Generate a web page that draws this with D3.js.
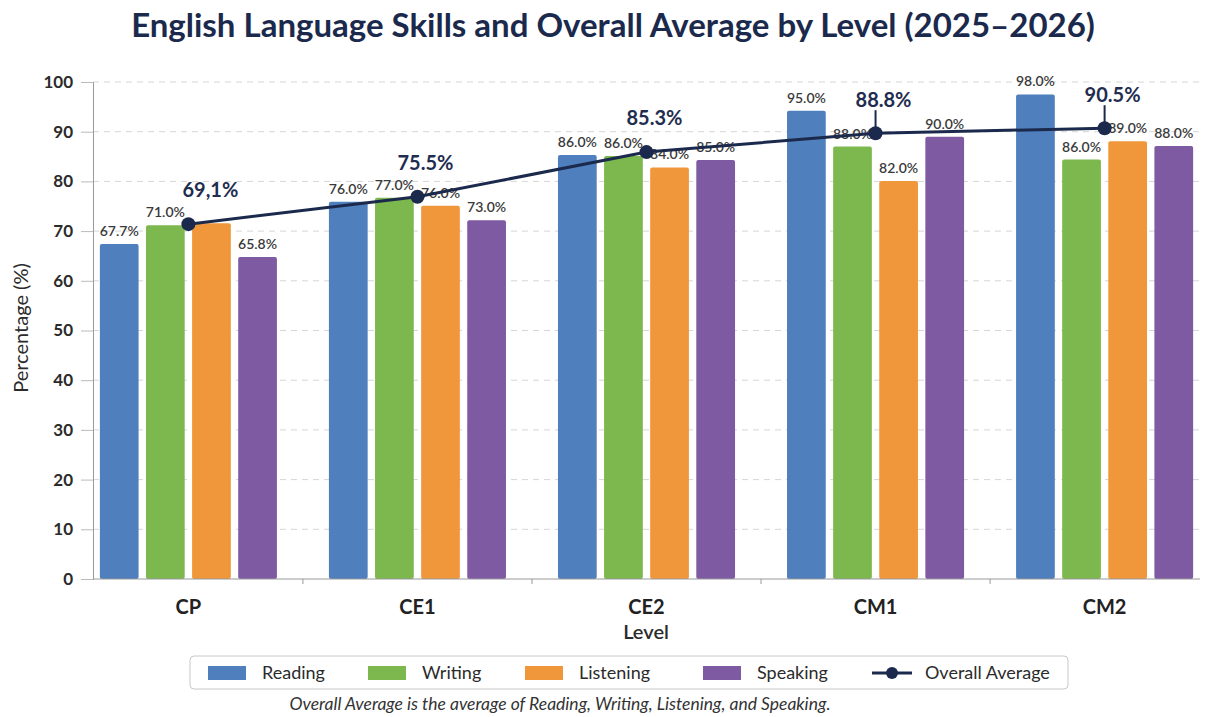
<!DOCTYPE html>
<html>
<head>
<meta charset="utf-8">
<script src="https://cdn.jsdelivr.net/npm/d3@7"></script>
<style>
body { margin: 0; background: #fff; }
svg { font-family: Lato, "Open Sans", sans-serif; }
</style>
</head>
<body>
<svg id="chart" width="1208" height="717"></svg>
<script>
// data
var levels = ["CP", "CE1", "CE2", "CM1", "CM2"];
var skills = ["Reading", "Writing", "Listening", "Speaking"];
var reading = [67.4, 75.9, 85.3, 94.2, 97.5];
var writing = [71.2, 76.7, 85.1, 87.0, 84.4];
var listening = [71.6, 75.1, 82.8, 80.1, 88.1];
var speaking = [64.8, 72.2, 84.3, 89.0, 87.1];
var readingLabels = ["67.7%", "76.0%", "86.0%", "95.0%", "98.0%"];
var writingLabels = ["71.0%", "77.0%", "86.0%", "88.0%", "86.0%"];
var listeningLabels = ["", "76.0%", "84.0%", "82.0%", "89.0%"];
var speakingLabels = ["65.8%", "73.0%", "85.0%", "90.0%", "88.0%"];
var overall = [71.4, 76.9, 85.9, 89.7, 90.7];
var overallLabels = ["69,1%", "75.5%", "85.3%", "88.8%", "90.5%"];
var yTicks = [0, 10, 20, 30, 40, 50, 60, 70, 80, 90, 100];

(function () {
var colors = ["#4f7fbd", "#7cb84e", "#f0973c", "#7e5aa3"];
var navy = "#1b2a4c";

var seriesVals = [reading, writing, listening, speaking];
var seriesLabels = [readingLabels, writingLabels, listeningLabels, speakingLabels];

var svg = d3.select("#chart");
var mLeft = 93, mRight = 1200, mTop = 82, mBottom = 579;

var x = d3.scaleBand().domain(levels).range([mLeft, mRight]).paddingInner(0.227).paddingOuter(0.03);
var xs = d3.scaleBand().domain(skills).range([0, x.bandwidth()]).paddingInner(0.16);
var y = d3.scaleLinear().domain([0, 100]).range([mBottom, mTop]);

// title
svg.append("text")
.attr("x", 613).attr("y", 37)
.attr("text-anchor", "middle")
.style("font-size", "33px").style("font-weight", "bold")
.style("fill", navy)
.text("English Language Skills and Overall Average by Level (2025\u20132026)");

// grid
svg.append("g").selectAll("line")
.data(yTicks.filter(function (d) { return d > 0 }))
.enter().append("line")
.attr("x1", mLeft).attr("x2", mRight)
.attr("y1", function (d) { return y(d) }).attr("y2", function (d) { return y(d) })
.style("stroke", "#d6d6d6").style("stroke-dasharray", "6,5");

// y axis
var yAxis = svg.append("g")
.attr("transform", "translate(" + mLeft + ",0)")
.call(d3.axisLeft(y).tickValues(yTicks).tickSize(12).tickPadding(8));
yAxis.select(".domain").style("stroke", "#999");
yAxis.selectAll(".tick line").style("stroke", "#bbb");
yAxis.selectAll("text").style("font-size", "17px").style("font-weight", "bold").style("fill", "#2b2b2b")
.style("font-family", "Lato");

svg.append("text")
.attr("transform", "translate(28,328) rotate(-90)")
.attr("text-anchor", "middle")
.style("font-size", "20px").style("fill", "#2b2b2b")
.text("Percentage (%)");

// bars
var groups = svg.append("g").selectAll("g")
.data(levels)
.enter().append("g")
.attr("transform", function (d) { return "translate(" + x(d) + ",0)" });

skills.forEach(function (s, k) {
  groups.append("rect")
  .attr("x", xs(s))
  .attr("width", xs.bandwidth())
  .attr("y", function (d, i) { return y(seriesVals[k][i]) })
  .attr("height", function (d, i) { return y(0) - y(seriesVals[k][i]) })
  .attr("rx", 2)
  .style("fill", colors[k]);

  groups.append("text")
  .attr("x", xs(s) + xs.bandwidth() / 2)
  .attr("y", function (d, i) { return y(seriesVals[k][i]) - 8 })
  .attr("text-anchor", "middle")
  .style("font-size", "14px").style("font-weight", "600").style("fill", "#3a3a3a")
  .text(function (d, i) { return seriesLabels[k][i] });
});

// x axis
svg.append("line")
.attr("x1", mLeft).attr("x2", mRight).attr("y1", mBottom).attr("y2", mBottom)
.style("stroke", "#999");
svg.append("g").selectAll("line")
.data(levels.slice(1))
.enter().append("line")
.attr("x1", function (d) { return x(d) - x.step() * x.paddingInner() / 2 })
.attr("x2", function (d) { return x(d) - x.step() * x.paddingInner() / 2 })
.attr("y1", mBottom).attr("y2", mBottom + 5)
.style("stroke", "#999");
svg.append("g").selectAll("text")
.data(levels)
.enter().append("text")
.attr("x", function (d) { return x(d) + x.bandwidth() / 2 })
.attr("y", 614)
.attr("text-anchor", "middle")
.style("font-size", "20px").style("font-weight", "bold").style("fill", "#222")
.text(function (d) { return d });

svg.append("text")
.attr("x", 646).attr("y", 639)
.attr("text-anchor", "middle")
.style("font-size", "20px").style("font-weight", "600").style("fill", "#2b2b2b")
.text("Level");

// overall average line
var cx = function (d, i) { return x(levels[i]) + x.bandwidth() / 2 };
var line = d3.line()
.x(cx)
.y(function (d) { return y(d) });

svg.append("path")
.datum(overall)
.attr("d", line)
.style("fill", "none").style("stroke", navy).style("stroke-width", 3);

svg.append("g").selectAll("circle")
.data(overall)
.enter().append("circle")
.attr("cx", cx)
.attr("cy", function (d) { return y(d) })
.attr("r", 7)
.style("fill", navy);

// leader ticks for the last two points
svg.append("g").selectAll("line")
.data(overall.slice(3))
.enter().append("line")
.attr("x1", function (d, i) { return cx(d, i + 3) })
.attr("x2", function (d, i) { return cx(d, i + 3) })
.attr("y1", function (d) { return y(d) - 23 })
.attr("y2", function (d) { return y(d) - 6 })
.style("stroke", navy).style("stroke-width", 2);

svg.append("g").selectAll("text")
.data(overall)
.enter().append("text")
.attr("x", function (d, i) { return cx(d, i) + (i == 0 ? 22 : 8) })
.attr("y", function (d, i) { return y(d) - (i >= 3 ? 26 : 27) })
.attr("text-anchor", "middle")
.style("font-size", "20px").style("font-weight", "bold").style("fill", "#1f2d50")
.text(function (d, i) { return overallLabels[i] });

// legend
var legend = svg.append("g");
legend.append("rect")
.attr("x", 190).attr("y", 656).attr("width", 878).attr("height", 33)
.attr("rx", 4)
.style("fill", "#fff").style("stroke", "#c8c8c8");

var legX = [208, 368, 525, 703];
legend.selectAll("rect.sw")
.data(skills)
.enter().append("rect")
.attr("class", "sw")
.attr("x", function (d, i) { return legX[i] }).attr("y", 666)
.attr("width", 38).attr("height", 14)
.style("fill", function (d, i) { return colors[i] });
legend.selectAll("text.lab")
.data(skills)
.enter().append("text")
.attr("class", "lab")
.attr("x", function (d, i) { return legX[i] + 54 }).attr("y", 679)
.style("font-size", "18px").style("fill", "#2b2b2b")
.text(function (d) { return d });

legend.append("line")
.attr("x1", 872).attr("x2", 912).attr("y1", 673).attr("y2", 673)
.style("stroke", navy).style("stroke-width", 3);
legend.append("circle")
.attr("cx", 892).attr("cy", 673).attr("r", 6).style("fill", navy);
legend.append("text")
.attr("x", 925).attr("y", 679)
.style("font-size", "18px").style("fill", "#2b2b2b")
.text("Overall Average");

svg.append("text")
.attr("x", 560).attr("y", 710)
.attr("text-anchor", "middle")
.style("font-size", "17.5px").style("font-style", "italic").style("fill", "#333")
.text("Overall Average is the average of Reading, Writing, Listening, and Speaking.");
})();
</script>
</body>
</html>
